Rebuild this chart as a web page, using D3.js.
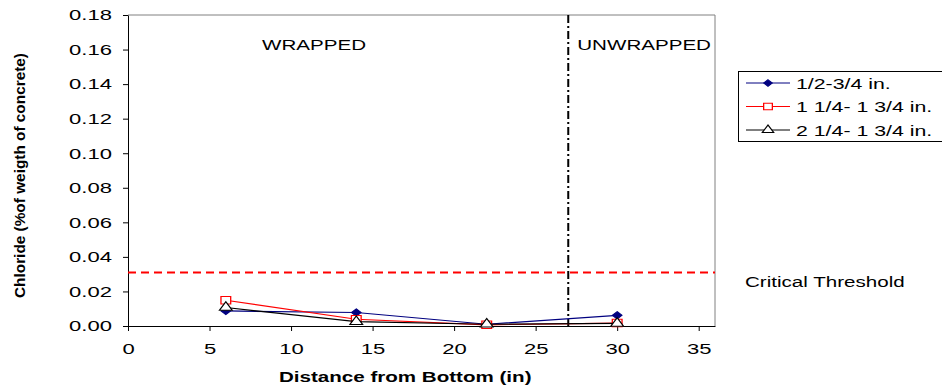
<!DOCTYPE html>
<html>
<head>
<meta charset="utf-8">
<script src="https://cdn.jsdelivr.net/npm/d3@7"></script>
<style>
  body { margin: 0; background: #fff; }
  svg { font-family: "Liberation Sans", Arial, sans-serif; }
  .axis path, .axis line { stroke: #000; }
  .axis text { font-size: 15px; fill: #000; }
</style>
</head>
<body>
<script>
// distance from bottom (in)
var distance = [6, 14, 22, 30];

var seriesNames = ["1/2-3/4 in.", "1 1/4- 1 3/4 in.", "2 1/4- 1 3/4 in."];
var depthA = [0.0087, 0.0078, 0.0010, 0.0062];
var depthB = [0.0149, 0.0039, 0.0007, 0.0017];
var depthC = [0.0107, 0.0025, 0.0010, 0.0015];

var criticalThreshold = 0.031;
var wrapLimit = 27;

var xTicks = [0, 5, 10, 15, 20, 25, 30, 35];
var yTicks = [0, 0.02, 0.04, 0.06, 0.08, 0.10, 0.12, 0.14, 0.16, 0.18];

var width = 942, height = 386;
var margin = {top: 15, right: 227, bottom: 60, left: 128};
var sx = 1.47; // the original picture is stretched sideways

var svg = d3.select("body").append("svg")
    .attr("width", width)
    .attr("height", height);

var w = width - margin.left - margin.right,
    h = height - margin.top - margin.bottom;

var x = d3.scaleLinear().domain([0, 36]).range([0, w]);
var y = d3.scaleLinear().domain([0, 0.18]).range([h, 0]);

// text drawn at (px,py), widened by sx
function wideText(parent, px, py, str, size, anchor, bold) {
  return parent.append("text")
      .attr("transform", "translate(" + px + "," + py + ") scale(" + sx + ",1)")
      .attr("text-anchor", anchor || "start")
      .attr("font-size", size)
      .attr("font-weight", bold ? "bold" : "normal")
      .text(str);
}

var g = svg.append("g")
    .attr("transform", "translate(" + margin.left + "," + margin.top + ")");

// plot frame (top and right)
g.append("path")
    .attr("d", "M0,0H" + w + "V" + h)
    .attr("fill", "none")
    .attr("stroke", "#808080")
    .attr("stroke-width", 1);

var xAxis = g.append("g")
    .attr("class", "x axis")
    .attr("transform", "translate(0," + h + ")")
    .call(d3.axisBottom(x).tickValues(xTicks).tickSize(5).tickSizeOuter(0).tickPadding(12)
      .tickFormat(d3.format("d")));
xAxis.selectAll("text").attr("transform", "scale(" + sx + ",1)");

var yAxis = g.append("g")
    .attr("class", "y axis")
    .call(d3.axisLeft(y).tickValues(yTicks).tickSize(5).tickSizeOuter(0)
      .tickFormat(d3.format(".2f")));
yAxis.selectAll("text")
    .attr("x", -16 / sx)
    .attr("transform", "scale(" + sx + ",1)");

// critical threshold
g.append("line")
    .attr("x1", 0).attr("x2", w)
    .attr("y1", y(criticalThreshold)).attr("y2", y(criticalThreshold))
    .attr("stroke", "#ff0000")
    .attr("stroke-width", 2)
    .attr("stroke-dasharray", "8,5");

// wrapped / unwrapped divider
g.append("line")
    .attr("x1", x(wrapLimit)).attr("x2", x(wrapLimit))
    .attr("y1", 0).attr("y2", h)
    .attr("stroke", "#000")
    .attr("stroke-width", 2)
    .attr("stroke-dasharray", "8,3,2,3");

wideText(g, 134, 35, "WRAPPED", 14);
wideText(g, x(wrapLimit) + 9, 35, "UNWRAPPED", 14);

var series = [
  {name: seriesNames[0], values: depthA, color: "#000080", symbol: d3.symbolDiamond2, fill: "#000080", size: 34},
  {name: seriesNames[1], values: depthB, color: "#ff0000", symbol: d3.symbolSquare, fill: "#fff", size: 56},
  {name: seriesNames[2], values: depthC, color: "#000000", symbol: d3.symbolTriangle, fill: "#fff", size: 42}
];

var line = d3.line()
    .x(function(d, i) { return x(distance[i]); })
    .y(function(d) { return y(d); });

series.forEach(function(s) {
  g.append("path")
      .datum(s.values)
      .attr("fill", "none")
      .attr("stroke", s.color)
      .attr("stroke-width", 1.2)
      .attr("d", line);

  g.selectAll(null)
      .data(s.values)
    .enter().append("path")
      .attr("transform", function(d, i) {
        return "translate(" + x(distance[i]) + "," + y(d) + ") scale(1.3,1)";
      })
      .attr("d", d3.symbol().type(s.symbol).size(s.size))
      .attr("fill", s.fill)
      .attr("stroke", s.color)
      .attr("stroke-width", 1);
});

// axis titles
wideText(svg, margin.left + x(17.0), 382, "Distance from Bottom (in)", 14, "middle", true);

svg.append("text")
    .attr("transform", "translate(25,175.5) rotate(-90)")
    .attr("text-anchor", "middle")
    .attr("font-size", 15)
    .attr("font-weight", "bold")
    .attr("textLength", 245)
    .attr("lengthAdjust", "spacingAndGlyphs")
    .text("Chloride (%of weigth of concrete)");

wideText(svg, 745, 287, "Critical Threshold", 14);

// legend
var legend = svg.append("g").attr("transform", "translate(738,71)");
legend.append("rect")
    .attr("x", 0.5).attr("y", 0.5)
    .attr("width", 215).attr("height", 70)
    .attr("fill", "#fff")
    .attr("stroke", "#000");

var items = legend.selectAll(".item")
    .data(series)
  .enter().append("g")
    .attr("class", "item")
    .attr("transform", function(d, i) { return "translate(0," + (12 + i * 23.5) + ")"; });

items.append("line")
    .attr("x1", 8).attr("x2", 52)
    .attr("stroke", function(d) { return d.color; });

items.append("path")
    .attr("transform", "translate(30,0) scale(1.3,1)")
    .attr("d", function(d) { return d3.symbol().type(d.symbol).size(d.size * 0.8)(); })
    .attr("fill", function(d) { return d.fill; })
    .attr("stroke", function(d) { return d.color; });

items.each(function(d) {
  wideText(d3.select(this), 58, 5.5, d.name, 14.5);
});
</script>
</body>
</html>
